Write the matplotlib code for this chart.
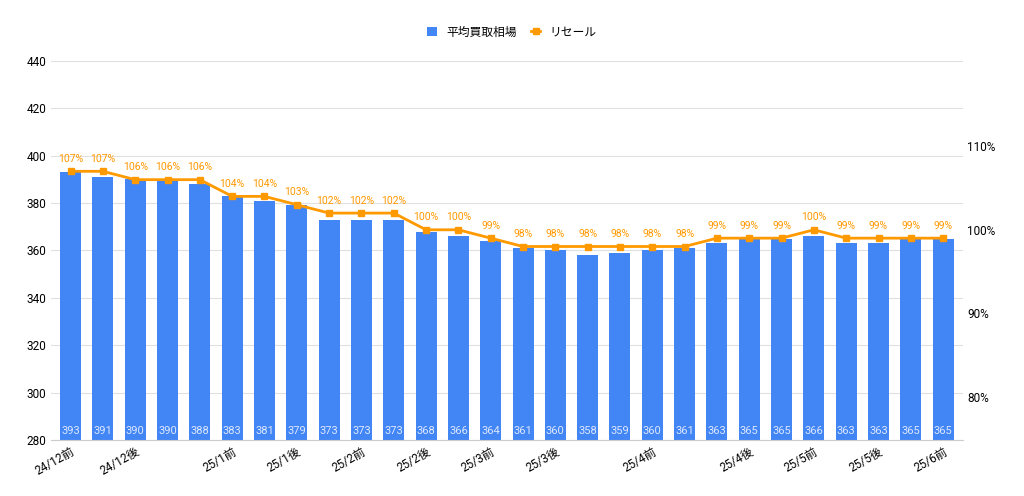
import matplotlib.pyplot as plt
import matplotlib

matplotlib.rcParams['font.family'] = ['Roboto', 'Noto Sans CJK JP']

buy_price = [393, 391, 390, 390, 388, 383, 381, 379, 373, 373, 373, 368, 366, 364,
             361, 360, 358, 359, 360, 361, 363, 365, 365, 366, 363, 363, 365, 365]
resale_pct = [107, 107, 106, 106, 106, 104, 104, 103, 102, 102, 102, 100, 100, 99,
              98, 98, 98, 98, 98, 98, 99, 99, 99, 100, 99, 99, 99, 99]
tick_pos = [0, 2, 5, 7, 9, 11, 13, 15, 18, 21, 23, 25, 27]
tick_labels = ['24/12前', '24/12後', '25/1前', '25/1後', '25/2前', '25/2後', '25/3前',
               '25/3後', '25/4前', '25/4後', '25/5前', '25/5後', '25/6前']

blue = '#4285f4'
orange = '#ff9900'

fig = plt.figure(figsize=(10.24, 4.96), dpi=100)
ax = fig.add_axes([0.05, 0.113, 0.89, 0.764])
x = list(range(len(buy_price)))

bars = ax.bar(x, buy_price, width=0.65, color=blue, zorder=2, label='平均買取相場')
for xi, v in zip(x, buy_price):
    ax.text(xi, 281.5, str(v), ha='center', va='bottom', color='#dde8ff', fontsize=8, zorder=3)

ax.set_ylim(280, 440)
ax.set_yticks(range(280, 441, 20))
ax.set_xlim(-0.6, len(x) - 0.4)
ax.grid(axis='y', color='#e0e0e0', linewidth=0.8, zorder=0)
ax.set_xticks(tick_pos)
ax.set_xticklabels(tick_labels, rotation=30, ha='right', rotation_mode='anchor', fontsize=8.5)
ax.tick_params(length=0, labelsize=8.5)
for s in ax.spines.values():
    s.set_visible(False)
ax.spines['bottom'].set_visible(True)
ax.spines['bottom'].set_color('#cccccc')

ax2 = ax.twinx()
ax2.plot(x, resale_pct, color=orange, linewidth=2, marker='s', markersize=5, zorder=4, label='リセール')
for xi, v in zip(x, resale_pct):
    ax2.text(xi, v + 0.9, f'{v}%', ha='center', va='bottom', color=orange, fontsize=7.5)
ax2.set_ylim(74.85, 120.2)
ax2.set_yticks([80, 90, 100, 110])
ax2.set_yticklabels(['80%', '90%', '100%', '110%'])
ax2.tick_params(length=0, labelsize=8.5)
for s in ax2.spines.values():
    s.set_visible(False)

h1, l1 = ax.get_legend_handles_labels()
h2, l2 = ax2.get_legend_handles_labels()
fig.legend(h1 + h2, l1 + l2, loc='upper center', bbox_to_anchor=(0.5, 0.97), ncol=2,
           frameon=False, fontsize=8.5, handlelength=0.8, columnspacing=1.2)

fig.savefig('out.png', dpi=100)
